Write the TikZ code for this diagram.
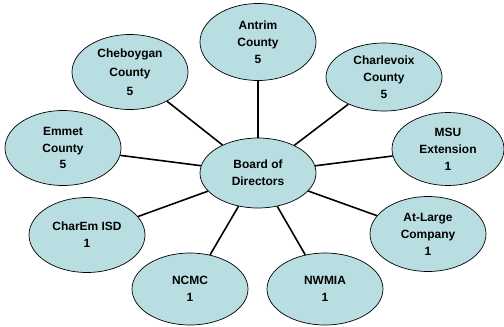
\documentclass[tikz,border=0pt]{standalone}
\usepackage{fontspec}
\setmainfont{Liberation Sans}
\usepackage{tikz}
\usetikzlibrary{shapes.geometric}
\definecolor{bubblefill}{RGB}{184,222,226}
\tikzset{
	bubble/.style={ellipse,draw=black,line width=0.7pt,fill=bubblefill,inner sep=0pt,
		minimum width=116bp,minimum height=74bp,align=center,
		font=\bfseries\fontsize{12}{17}\selectfont},
	link/.style={line width=1.6pt,black}
}

\begin{document}
\begin{tikzpicture}[x=1bp,y=-1bp]
\useasboundingbox (0,0) rectangle (504,326);

%Centre
\node[bubble,minimum height=70bp] (board) at (258,173) {Board of\\Directors};

%Comtes
\node[bubble,minimum height=77bp] (antrim) at (258,42) {Antrim\\County\\5};
\node[bubble,minimum height=75bp] (cheboygan) at (130,72) {Cheboygan\\[2pt]County\\[2pt]5};
\node[bubble,minimum height=68bp] (charlevoix) at (384,77) {Charlevoix\\County\\5};
\node[bubble,minimum height=75bp] (emmet) at (63,148) {Emmet\\County\\5};

%Autres membres
\node[bubble,minimum width=112bp,minimum height=73bp] (msu) at (448,149) {MSU\\Extension\\1};
\node[bubble,minimum height=75bp] (charem) at (87,235) {CharEm ISD\\1};
\node[bubble,minimum height=75bp] (atlarge) at (428,234) {At-Large\\Company\\1};
\node[bubble,minimum height=72bp] (ncmc) at (190,289) {NCMC\\1};
\node[bubble,minimum height=72bp] (nwmia) at (325,289) {NWMIA\\1};

%Liens
\foreach \m in {antrim,cheboygan,charlevoix,emmet,msu,charem,atlarge,ncmc,nwmia}
	\draw[link] (board) -- (\m);

\end{tikzpicture}
\end{document}
